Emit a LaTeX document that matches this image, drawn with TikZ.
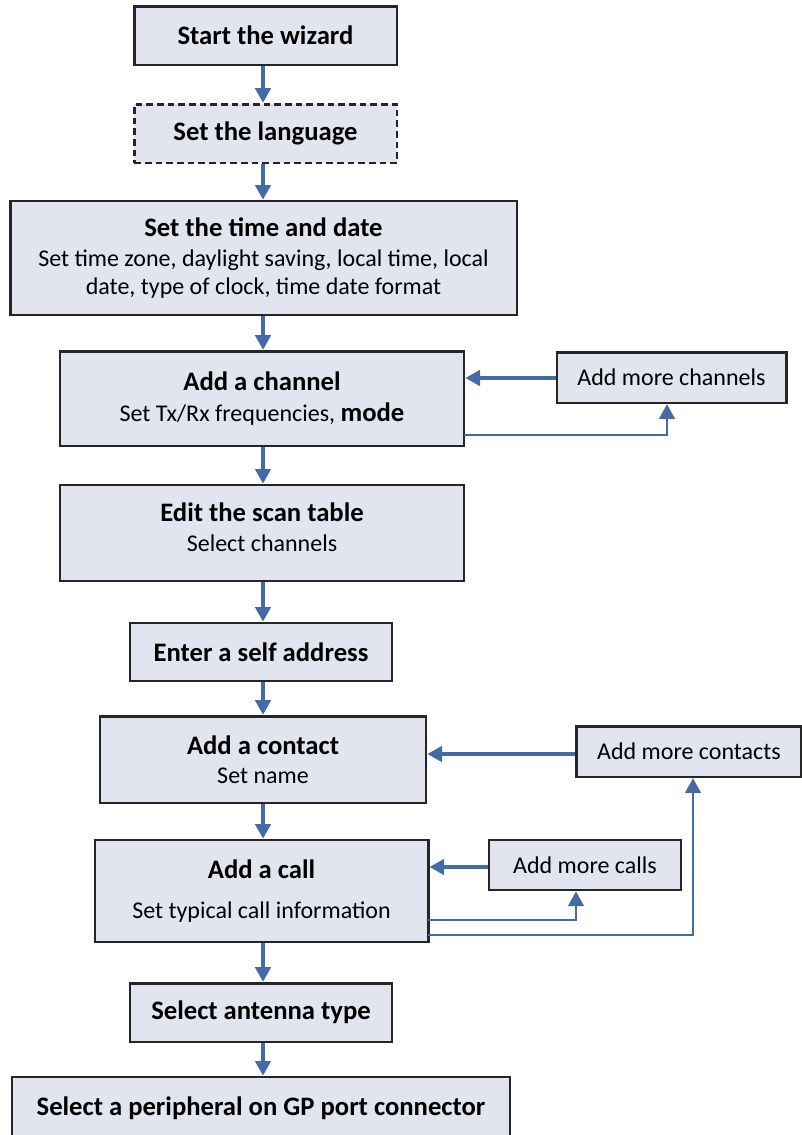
\documentclass[tikz,border=0pt]{standalone}
\usepackage{fontspec}
\setmainfont{Carlito}
\usetikzlibrary{arrows.meta}
\definecolor{boxfill}{RGB}{226,229,239}
\definecolor{flowblue}{RGB}{68,106,168}
\tikzset{
  stepbox/.style={draw=black!85, line width=2pt, fill=boxfill, align=center, inner sep=0pt,
    font=\fontsize{18}{21}\selectfont},
  flow/.style={draw=flowblue, line width=2.6pt, -{Triangle[width=11.5pt,length=11pt]}},
  loopline/.style={draw=flowblue, line width=2.1pt, -{Triangle[width=11.5pt,length=11pt]}}
}
\newcommand{\boxtitle}[1]{{\fontsize{20}{22}\selectfont\bfseries #1}}
\begin{document}
\begin{tikzpicture}[x=0.75pt,y=0.75pt,yscale=-1,xscale=1]
        \useasboundingbox (0,0) rectangle (801,1135);

        %Shape: Rectangle [start]
        \node[stepbox, minimum width=197pt, minimum height=44pt] (start) at (265.5,35.5) {\boxtitle{Start the wizard}};
        %Shape: Rectangle [language]
        \node[stepbox, dash pattern=on 5pt off 3pt, minimum width=197pt, minimum height=44pt] (lang) at (265.5,133.5) {\boxtitle{Set the language}};
        %Shape: Rectangle [time]
        \node[stepbox, minimum width=380pt, minimum height=85.5pt] (time) at (263.5,258) {\boxtitle{Set the time and date}\\[1pt]Set time zone, daylight saving, local time, local\\date, type of clock, time date format};
        %Shape: Rectangle [channel]
        \node[stepbox, minimum width=303pt, minimum height=71pt] (chan) at (262,398.5) {\boxtitle{Add a channel}\\[2pt]Set Tx/Rx frequencies, \boxtitle{mode}};
        \node[stepbox, minimum width=172pt, minimum height=38pt] (morechan) at (671.5,377.5) {Add more channels};
        %Shape: Rectangle [scan]
        \node[stepbox, minimum width=303pt, minimum height=72pt] (scan) at (262,533) {\boxtitle{Edit the scan table}\\[2pt]Select channels\\[-12pt]\mbox{}};
        %Shape: Rectangle [self]
        \node[stepbox, minimum width=196.5pt, minimum height=43.5pt] (self) at (261,652) {\boxtitle{Enter a self address}};
        %Shape: Rectangle [contact]
        \node[stepbox, minimum width=244.5pt, minimum height=65pt] (contact) at (263,759.5) {\boxtitle{Add a contact}\\[1pt]Set name};
        \node[stepbox, minimum width=169pt, minimum height=38pt] (morecont) at (689,751.5) {Add more contacts};
        %Shape: Rectangle [call]
        \node[stepbox, minimum width=250pt, minimum height=76.5pt] (call) at (261.5,891) {\boxtitle{Add a call}\\[9pt]Set typical call information};
        \node[stepbox, minimum width=144pt, minimum height=37.5pt] (morecall) at (585,865) {Add more calls};
        %Shape: Rectangle [antenna]
        \node[stepbox, minimum width=196.5pt, minimum height=44pt] (ant) at (261,1012.5) {\boxtitle{Select antenna type}};
        %Shape: Rectangle [peripheral]
        \node[stepbox, minimum width=373.5pt, minimum height=46.5pt] (periph) at (261,1108) {\boxtitle{Select a peripheral on GP port connector}};

        %Straight Lines [main flow]
        \draw[flow] (start.south -| 263,0) -- (lang.north -| 263,0);
        \draw[flow] (lang.south -| 263,0) -- (time.north -| 263,0);
        \draw[flow] (time.south -| 263,0) -- (chan.north -| 263,0);
        \draw[flow] (chan.south -| 263,0) -- (scan.north -| 263,0);
        \draw[flow] (scan.south -| 263,0) -- (self.north -| 263,0);
        \draw[flow] (self.south -| 263,0) -- (contact.north -| 263,0);
        \draw[flow] (contact.south -| 263,0) -- (call.north -| 263,0);
        \draw[flow] (call.south -| 263,0) -- (ant.north -| 263,0);
        \draw[flow] (ant.south -| 263,0) -- (periph.north -| 263,0);

        %Straight Lines [loops]
        \coordinate (chanout) at (464,435);
        \coordinate (callout1) at (428,920);
        \coordinate (callout2) at (428,935);
        \draw[flow] (morechan.west |- 0,378) -- (chan.east |- 0,378);
        \draw[loopline] (chanout) -| (morechan.south -| 667,0);
        \draw[flow] (morecont.west |- 0,754) -- (contact.east |- 0,754);
        \draw[flow] (morecall.west |- 0,867) -- (call.east |- 0,867);
        \draw[loopline] (callout1) -| (morecall.south -| 576,0);
        \draw[loopline] (callout2) -| (morecont.south -| 693,0);
\end{tikzpicture}
\end{document}
